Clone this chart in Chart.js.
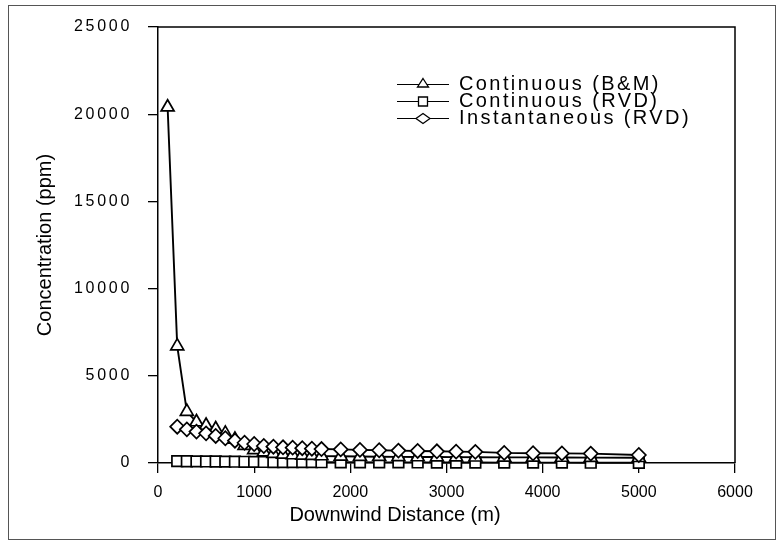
<!DOCTYPE html>
<html><head><meta charset="utf-8">
<script src="https://cdn.jsdelivr.net/npm/chart.js@4.4.1/dist/chart.umd.min.js"></script>
<style>html,body{margin:0;padding:0;background:#fff}canvas{display:block}</style>
</head><body>
<canvas id="c" width="781" height="542"></canvas>
<script>
// ---- data ----
const seriesNames = ['Continuous (B&M)', 'Continuous (RVD)', 'Instantaneous (RVD)'];
const distBM = [100,200,300,400,500,600,700,800,900,1000,1100,1200,1300,1400,1500,1600,1700,1900,2100,2300,2500,2700,2900,3100,3300,3600,3900,4200,4500,5000];
const distRVD = [200,300,400,500,600,700,800,900,1000,1100,1200,1300,1400,1500,1600,1700,1900,2100,2300,2500,2700,2900,3100,3300,3600,3900,4200,4500,5000];
const concBM = [20400,6700,2950,2350,2150,1950,1700,1350,1000,750,620,540,490,460,440,420,400,385,370,360,350,345,340,335,330,325,320,315,310,300];
const concContRVD = [110,100,95,90,85,80,75,70,65,60,58,55,52,50,48,45,42,40,37,35,33,30,28,26,23,21,19,17,14];
const concInstRVD = [2080,1930,1800,1700,1550,1420,1280,1160,1090,975,935,900,880,850,820,800,780,750,730,710,690,670,650,640,580,560,550,540,460];
const xTicks = [0,1000,2000,3000,4000,5000,6000];
const yTicks = [0,5000,10000,15000,20000,25000];
const xTitle = 'Downwind Distance (m)';
const yTitle = 'Concentration (ppm)';

const FONT = '"Liberation Sans", Arial, sans-serif';

function makeIcon(kind) {
  const c = document.createElement('canvas');
  c.width = 52; c.height = 16;
  const g = c.getContext('2d');
  g.strokeStyle = '#000'; g.lineWidth = 1.2;
  g.beginPath(); g.moveTo(0, 8.5); g.lineTo(52, 8.5); g.stroke();
  g.fillStyle = '#fff'; g.lineWidth = 1.3;
  const cx = 26, cy = 8;
  g.beginPath();
  if (kind === 'triangle') { g.moveTo(cx, cy - 5.5); g.lineTo(cx + 5.5, cy + 3); g.lineTo(cx - 5.5, cy + 3); g.closePath(); }
  else if (kind === 'rect') { g.rect(cx - 4.5, cy - 4, 9, 9); }
  else { g.moveTo(cx, cy - 4.5); g.lineTo(cx + 7, cy + 0.5); g.lineTo(cx, cy + 5.5); g.lineTo(cx - 7, cy + 0.5); g.closePath(); }
  g.fill(); g.stroke();
  return c;
}
const icons = [makeIcon('triangle'), makeIcon('rect'), makeIcon('diamond')];

function patchSpacing(obj, method, spacing, inner) {
  if (!obj || obj['_ls_' + method]) return;
  const orig = inner ? obj[inner] : obj[method];
  obj[method] = function (a) {
    const c = this.ctx; c.save(); c.letterSpacing = spacing; orig.call(this, a); c.restore();
  };
  obj['_ls_' + method] = true;
}

const framePlugin = {
  id: 'frame',
  beforeDraw(chart) {
    const ctx = chart.ctx;
    ctx.save();
    ctx.fillStyle = '#fff'; ctx.fillRect(0, 0, chart.width, chart.height);
    ctx.strokeStyle = '#555'; ctx.lineWidth = 1;
    ctx.strokeRect(8.5, 5.5, 767, 534);
    ctx.restore();
    const lg = chart.legend;
    if (lg) {
      const h = lg.height;
      lg.left = 400; lg.top = 77; lg.right = 740; lg.bottom = 77 + h;
      // draw without the legend's own clip box (text is letter-spaced)
      patchSpacing(lg, 'draw', '2.4px', typeof lg._draw === 'function' ? '_draw' : null);
    }
    patchSpacing(chart.scales.y, 'drawLabels', '2.7px');
  },
  beforeDatasetsDraw(chart) {
    const {ctx, chartArea: a} = chart;
    ctx.save(); ctx.strokeStyle = '#000'; ctx.lineWidth = 1.5;
    ctx.beginPath(); ctx.moveTo(a.left, a.top); ctx.lineTo(a.right, a.top); ctx.lineTo(a.right, a.bottom); ctx.stroke();
    ctx.restore();
  }
};

const axisGrid = { drawOnChartArea: false, drawTicks: true, tickLength: 10, color: '#000', lineWidth: 1.3 };
const axisBorder = { display: true, color: '#000', width: 1.5 };
const lineStyle = {
  borderColor: '#000', borderWidth: 1.9, backgroundColor: '#fff',
  pointBackgroundColor: '#fff', pointBorderColor: '#000', pointBorderWidth: 1.7,
  tension: 0, fill: false, clip: false
};

new Chart(document.getElementById('c'), {
  type: 'line',
  data: {
    datasets: [
      Object.assign({ label: seriesNames[0], data: distBM.map((x, i) => ({x, y: concBM[i]})), pointStyle: 'triangle', pointRadius: 7.5, order: 1 }, lineStyle),
      Object.assign({ label: seriesNames[1], data: distRVD.map((x, i) => ({x, y: concContRVD[i]})), pointStyle: 'rect', pointRadius: 7.5, order: 2 }, lineStyle),
      Object.assign({ label: seriesNames[2], data: distRVD.map((x, i) => ({x, y: concInstRVD[i]})), pointStyle: 'rectRot', pointRadius: 7, order: 0 }, lineStyle)
    ]
  },
  options: {
    responsive: false,
    animation: false,
    events: [],
    layout: { padding: { left: 55, right: 46, top: 27, bottom: 15 } },
    scales: {
      x: {
        type: 'linear', min: 0, max: 6000,
        afterBuildTicks: s => { s.ticks = xTicks.map(v => ({value: v})); },
        afterFit: s => { s.height = 40; },
        grid: axisGrid, border: axisBorder,
        ticks: { font: {family: FONT, size: 16}, color: '#000', padding: 10, maxRotation: 0, autoSkip: false, callback: v => String(v) }
      },
      y: {
        type: 'linear', min: 0, max: 25000,
        afterBuildTicks: s => { s.ticks = yTicks.map(v => ({value: v})); },
        afterFit: s => { s.width = 103; },
        grid: axisGrid, border: axisBorder,
        ticks: { font: {family: FONT, size: 16}, color: '#000', padding: 16, autoSkip: false, callback: v => String(v) },
        title: { display: true, text: yTitle, font: {family: FONT, size: 20}, color: '#000', padding: {top: -22, bottom: 0} }
      }
    },
    plugins: {
      colors: { enabled: false },
      tooltip: { enabled: false },
      title: { display: true, position: 'bottom', text: xTitle, font: {family: FONT, size: 20, weight: 'normal'}, color: '#000', padding: {top: 0, bottom: 0} },
      legend: {
        position: 'chartArea', align: 'start',
        labels: {
          usePointStyle: true, pointStyleWidth: 52, padding: -3,
          font: {family: FONT, size: 20}, color: '#000',
          sort: (a, b) => a.datasetIndex - b.datasetIndex,
          generateLabels: chart => Chart.defaults.plugins.legend.labels.generateLabels(chart)
            .map(it => Object.assign(it, {pointStyle: icons[it.datasetIndex]}))
        }
      }
    }
  },
  plugins: [framePlugin]
});
</script>
</body></html>
